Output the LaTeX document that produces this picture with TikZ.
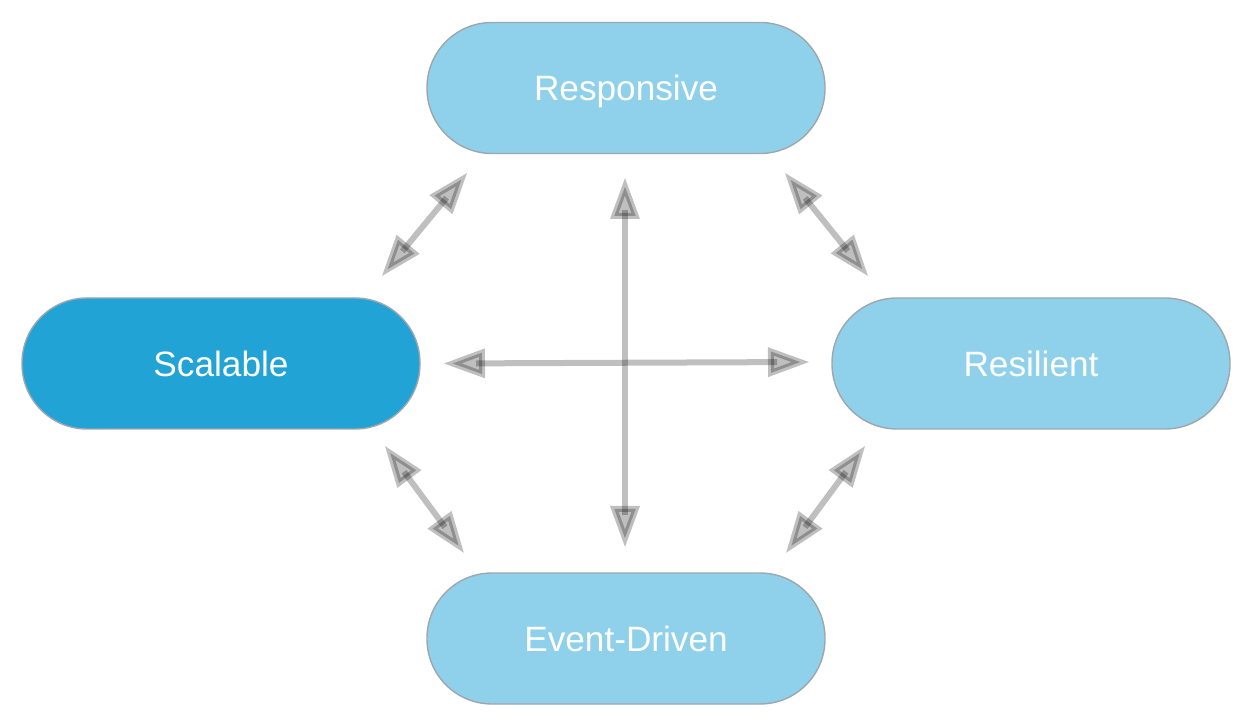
\documentclass[tikz,border=0pt]{standalone}
\usepackage{fontspec}
\setmainfont{Liberation Sans}
\usetikzlibrary{decorations.markings}
\definecolor{lightblue}{HTML}{8FD0EA}
\definecolor{darkblue}{HTML}{22A3D6}
\definecolor{rimgray}{HTML}{9EA7AE}
\tikzset{
  pill/.style={draw=rimgray, line width=0.7pt, fill=lightblue, rounded corners=32.5pt,
    minimum width=199pt, minimum height=65.5pt, inner sep=0pt, text=white,
    text height=12.6pt, text depth=0pt,
    font=\fontsize{17.6pt}{20pt}\selectfont},
  pilldark/.style={pill, fill=darkblue},
  headtri/.style={draw=black, fill=black, draw opacity=0.25, fill opacity=0.25,
    line width=3pt, line join=miter, shorten <=0pt, shorten >=0pt},
  link/.style={draw=black, draw opacity=0.25, line width=3pt,
    shorten <=16pt, shorten >=16pt,
    postaction={decorate},
    decoration={markings,
      mark=at position 0 with {\path[headtri] (4.4pt,0pt) -- (19pt,5.35pt) -- (19pt,-5.35pt) -- cycle;},
      mark=at position 1 with {\path[headtri] (-4.4pt,0pt) -- (-19pt,5.35pt) -- (-19pt,-5.35pt) -- cycle;}}}
}
\begin{document}
\begin{tikzpicture}[x=0.5pt, y=-0.5pt]
\useasboundingbox (0,0) rectangle (1252,726);
\node[pill] (resp) at (626,88) {Responsive};
\node[pilldark] (scal) at (221,363.5) {Scalable};
\node[pill] (resi) at (1031,363.5) {Resilient};
\node[pill] (event) at (626,638.5) {Event-Driven};
\coordinate (rs1) at (467,173); \coordinate (rs2) at (382,276);
\coordinate (v1) at (625,178);  \coordinate (v2) at (625,547);
\coordinate (h1) at (444,363.5);  \coordinate (h2) at (809,362);
\coordinate (rr1) at (785,173); \coordinate (rr2) at (868,276);
\coordinate (se1) at (385,446); \coordinate (se2) at (464,553);
\coordinate (re1) at (865,446); \coordinate (re2) at (786,553);
\draw[link] (rs1) -- (rs2);
\draw[link] (v1) -- (v2);
\draw[link] (h1) -- (h2);
\draw[link] (rr1) -- (rr2);
\draw[link] (se1) -- (se2);
\draw[link] (re1) -- (re2);
\end{tikzpicture}
\end{document}
